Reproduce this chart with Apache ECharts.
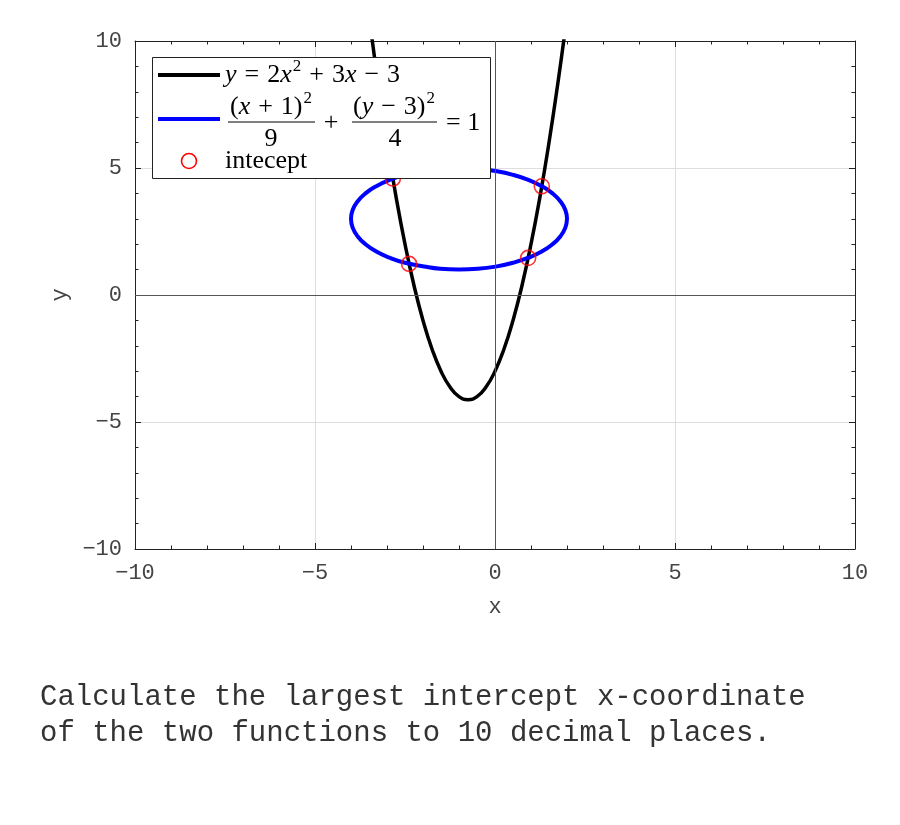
<!DOCTYPE html>
<html>
<head>
<meta charset="utf-8">
<script src="https://cdn.jsdelivr.net/npm/echarts@6/dist/echarts.min.js"></script>
<style>
  html, body { margin: 0; padding: 0; background: #fff; }
  #chart { width: 900px; height: 825px; }
</style>
</head>
<body>
<div id="chart"></div>
<script>
// parabola y = 2x^2 + 3x - 3
const parabolaX = [-3.45, -3.25, -3, -2.75, -2.5, -2.25, -2, -1.75, -1.5, -1.25, -1, -0.75, -0.5, -0.25, 0, 0.25, 0.5, 0.75, 1, 1.25, 1.5, 1.75, 1.95];
const parabolaY = [10.455, 8.375, 6, 3.875, 2, 0.375, -1, -2.125, -3, -3.625, -4, -4.125, -4, -3.625, -3, -2.125, -1, 0.375, 2, 3.875, 6, 8.375, 10.455];

// ellipse (x+1)^2/9 + (y-3)^2/4 = 1
const ellipseX = [2, 1.954, 1.819, 1.598, 1.298, 0.928, 0.5, 0.026, -0.479, -1, -1.521, -1.974, -2.5, -2.928, -3.298, -3.598, -3.819, -3.954,
                  -4, -3.954, -3.819, -3.598, -3.298, -2.928, -2.5, -1.974, -1.521, -1, -0.479, 0.026, 0.5, 0.928, 1.298, 1.598, 1.819, 1.954, 2];
const ellipseY = [3, 3.347, 3.684, 4, 4.286, 4.532, 4.732, 4.879, 4.970, 5, 4.970, 4.879, 4.732, 4.532, 4.286, 4, 3.684, 3.347,
                  3, 2.653, 2.316, 2, 1.714, 1.468, 1.268, 1.121, 1.030, 1, 1.030, 1.121, 1.268, 1.468, 1.714, 2, 2.316, 2.653, 3];

// intersection points (red circles)
const interceptX = [-2.837, -2.386, 0.921, 1.300];
const interceptY = [4.585, 1.225, 1.460, 4.280];

const axisMin = -10;
const axisMax = 10;
const axisStep = 5;

const tickFont = 'Liberation Mono';
const zip = (xs, ys) => xs.map((x, i) => [x, ys[i]]);

const chart = echarts.init(document.getElementById('chart'));

function boxAxis(pos, withLabels) {
  return {
    type: 'value',
    position: pos,
    min: axisMin,
    max: axisMax,
    interval: axisStep,
    axisLine: { show: true, onZero: false, lineStyle: { color: '#222', width: 1 } },
    axisTick: { show: true, inside: true, length: 6, lineStyle: { color: '#222' } },
    minorTick: { show: true, splitNumber: 5, length: 3.5, lineStyle: { color: '#222' } },
    splitLine: { show: withLabels, lineStyle: { color: '#dedede', width: 1 } },
    axisLabel: {
      show: withLabels, fontFamily: tickFont, fontSize: 22, color: '#444', margin: 13,
      formatter: v => String(v).replace('-', '\u2212')
    }
  };
}

const xBottom = Object.assign(boxAxis('bottom', true), {
  name: 'x', nameLocation: 'middle', nameGap: 47,
  nameTextStyle: { fontFamily: tickFont, fontSize: 22, color: '#444' }
});
const yLeft = Object.assign(boxAxis('left', true), {
  name: 'y', nameLocation: 'middle', nameGap: 62,
  nameTextStyle: { fontFamily: tickFont, fontSize: 22, color: '#444' }
});

// legend text styles (LaTeX-like)
const serif = 'Liberation Serif';
const legendZ = 100;
const mathRich = {
  n: { fontFamily: serif, fontSize: 26, lineHeight: 30, verticalAlign: 'bottom', color: '#000' },
  o: { fontFamily: serif, fontSize: 26, lineHeight: 30, verticalAlign: 'bottom', color: '#000', padding: [0, 8, 0, 8] },
  i: { fontFamily: serif, fontSize: 26, fontStyle: 'italic', lineHeight: 30, verticalAlign: 'bottom', color: '#000' },
  s: { fontFamily: serif, fontSize: 17, lineHeight: 30, verticalAlign: 'top', color: '#000', padding: [0, 0, 0, 1] }
};
function mathText(x, y, text, align) {
  return {
    type: 'text', z: legendZ, x: x, y: y,
    style: { text: text, align: align || 'left', verticalAlign: 'middle', rich: mathRich }
  };
}

const option = {
  backgroundColor: '#fff',
  animation: false,
  grid: { left: 135, right: 45, top: 41, bottom: 276 },
  xAxis: [xBottom, boxAxis('top', false)],
  yAxis: [yLeft, boxAxis('right', false)],
  series: [
    {
      type: 'line',
      data: [],
      z: 1,
      silent: true,
      markLine: {
        symbol: 'none',
        silent: true,
        label: { show: false },
        lineStyle: { color: '#555', width: 1, type: 'solid' },
        data: [{ xAxis: 0 }, { yAxis: 0 }]
      }
    },
    {
      name: 'parabola',
      type: 'line',
      data: zip(parabolaX, parabolaY),
      smooth: true,
      showSymbol: false,
      z: 3,
      lineStyle: { color: '#000', width: 3.5 }
    },
    {
      name: 'ellipse',
      type: 'line',
      data: zip(ellipseX, ellipseY),
      smooth: true,
      showSymbol: false,
      z: 4,
      lineStyle: { color: '#0000ff', width: 4 }
    },
    {
      name: 'intecept',
      type: 'scatter',
      data: zip(interceptX, interceptY),
      symbol: 'circle',
      symbolSize: 15,
      z: 5,
      itemStyle: { color: 'rgba(0,0,0,0)', borderColor: '#ff0000', borderWidth: 1.6 }
    }
  ],
  graphic: [
    {
      type: 'rect', z: legendZ,
      shape: { x: 152.5, y: 57.5, width: 338, height: 121 },
      style: { fill: '#fff', stroke: '#222', lineWidth: 1 }
    },
    { type: 'line', z: legendZ, shape: { x1: 158, y1: 75, x2: 220, y2: 75 }, style: { stroke: '#000', lineWidth: 4 } },
    { type: 'line', z: legendZ, shape: { x1: 158, y1: 119, x2: 220, y2: 119 }, style: { stroke: '#0000ff', lineWidth: 4 } },
    { type: 'circle', z: legendZ, shape: { cx: 189, cy: 161, r: 7.5 }, style: { fill: 'none', stroke: '#ff0000', lineWidth: 1.6 } },
    mathText(225, 73, '{i|y}{o|=}{n|2}{i|x}{s|2}{o|+}{n|3}{i|x}{o|\u2212}{n|3}'),
    mathText(271, 105, '{n|(}{i|x}{o|+}{n|1)}{s|2}', 'center'),
    { type: 'line', z: legendZ, shape: { x1: 228, y1: 122, x2: 315, y2: 122 }, style: { stroke: '#000', lineWidth: 1 } },
    mathText(271, 137, '{n|9}', 'center'),
    mathText(331, 121, '{n|+}', 'center'),
    mathText(394, 105, '{n|(}{i|y}{o|\u2212}{n|3)}{s|2}', 'center'),
    { type: 'line', z: legendZ, shape: { x1: 352, y1: 122, x2: 437, y2: 122 }, style: { stroke: '#000', lineWidth: 1 } },
    mathText(395, 137, '{n|4}', 'center'),
    mathText(446, 121, '{n|= 1}'),
    mathText(225, 159, '{n|intecept}'),
    {
      type: 'text', x: 40, y: 679,
      style: {
        text: 'Calculate the largest intercept x-coordinate\nof the two functions to 10 decimal places.',
        font: '29px "Liberation Mono"', fill: '#333', lineHeight: 36, verticalAlign: 'top'
      }
    }
  ]
};

chart.setOption(option);
</script>
</body>
</html>
